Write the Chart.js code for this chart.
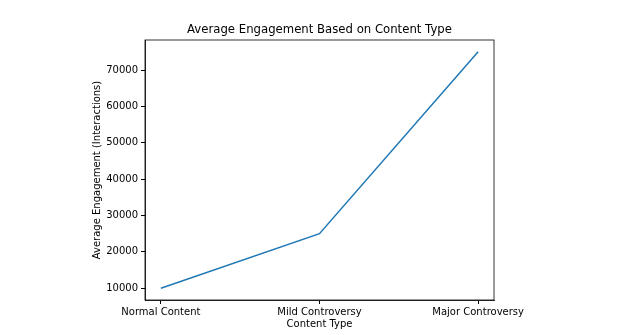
<!DOCTYPE html>
<html>
<head>
<meta charset="utf-8">
<script src="https://cdn.jsdelivr.net/npm/chart.js@4/dist/chart.umd.min.js"></script>
<style>
  html, body { margin: 0; padding: 0; background: #fff; }
  #wrap { width: 622px; height: 335px; }
</style>
</head>
<body>
<div id="wrap"><canvas id="engagement-chart" width="622" height="335"></canvas></div>
<script>
// Average interactions per content type
const contentTypes = ['Normal Content', 'Mild Controversy', 'Major Controversy'];
const avgEngagement = [10000, 25000, 75000];
const yTicks = [10000, 20000, 30000, 40000, 50000, 60000, 70000];

const FONT = 'DejaVu Sans';

// Full box around the plot area, plus a title centred over it
const frameAndTitle = {
  id: 'frameAndTitle',
  afterDraw(chart) {
    const { ctx, chartArea: a } = chart;
    ctx.save();
    ctx.strokeStyle = '#000';
    ctx.lineWidth = 0.8;
    ctx.strokeRect(a.left, a.top, a.right - a.left, a.bottom - a.top);
    ctx.fillStyle = '#000';
    ctx.font = '11.7px "' + FONT + '"';
    ctx.textAlign = 'center';
    ctx.textBaseline = 'middle';
    ctx.fillText('Average Engagement Based on Content Type', (a.left + a.right) / 2, 30);
    ctx.restore();
  }
};

new Chart(document.getElementById('engagement-chart').getContext('2d'), {
  type: 'line',
  data: {
    datasets: [{
      data: avgEngagement.map((v, i) => ({ x: i, y: v })),
      borderColor: '#1f77b4',
      borderWidth: 1.5,
      pointRadius: 0,
      fill: false,
      tension: 0
    }]
  },
  options: {
    responsive: false,
    animation: false,
    layout: { padding: { top: 40, right: 128, left: 0, bottom: 0 } },
    plugins: {
      legend: { display: false },
      tooltip: { enabled: false }
    },
    scales: {
      x: {
        type: 'linear',
        min: -0.1,
        max: 2.1,
        afterFit(scale) { scale.height = 35; },
        afterBuildTicks(scale) {
          scale.ticks = contentTypes.map((_, i) => ({ value: i }));
        },
        grid: { drawOnChartArea: false, drawTicks: true, tickLength: 4, color: '#000' },
        border: { display: true, color: '#000', width: 0.8 },
        ticks: {
          padding: 2,
          maxRotation: 0,
          color: '#000',
          font: { family: FONT, size: 10 },
          callback: v => contentTypes[v] ?? ''
        },
        title: {
          display: true,
          text: 'Content Type',
          color: '#000',
          padding: { top: 0, bottom: 5 },
          font: { family: FONT, size: 10 }
        }
      },
      y: {
        min: 6750,
        max: 78250,
        afterFit(scale) { scale.width = 145; },
        afterBuildTicks(scale) {
          scale.ticks = yTicks.map(v => ({ value: v }));
        },
        grid: { drawOnChartArea: false, drawTicks: true, tickLength: 4, color: '#000' },
        border: { display: true, color: '#000', width: 0.8 },
        ticks: {
          padding: 3,
          color: '#000',
          font: { family: FONT, size: 10 },
          callback: v => String(v)
        },
        title: {
          display: true,
          text: 'Average Engagement (Interactions)',
          color: '#000',
          padding: { top: 91, bottom: 0 },
          font: { family: FONT, size: 10 }
        }
      }
    }
  },
  plugins: [frameAndTitle]
});
</script>
</body>
</html>
